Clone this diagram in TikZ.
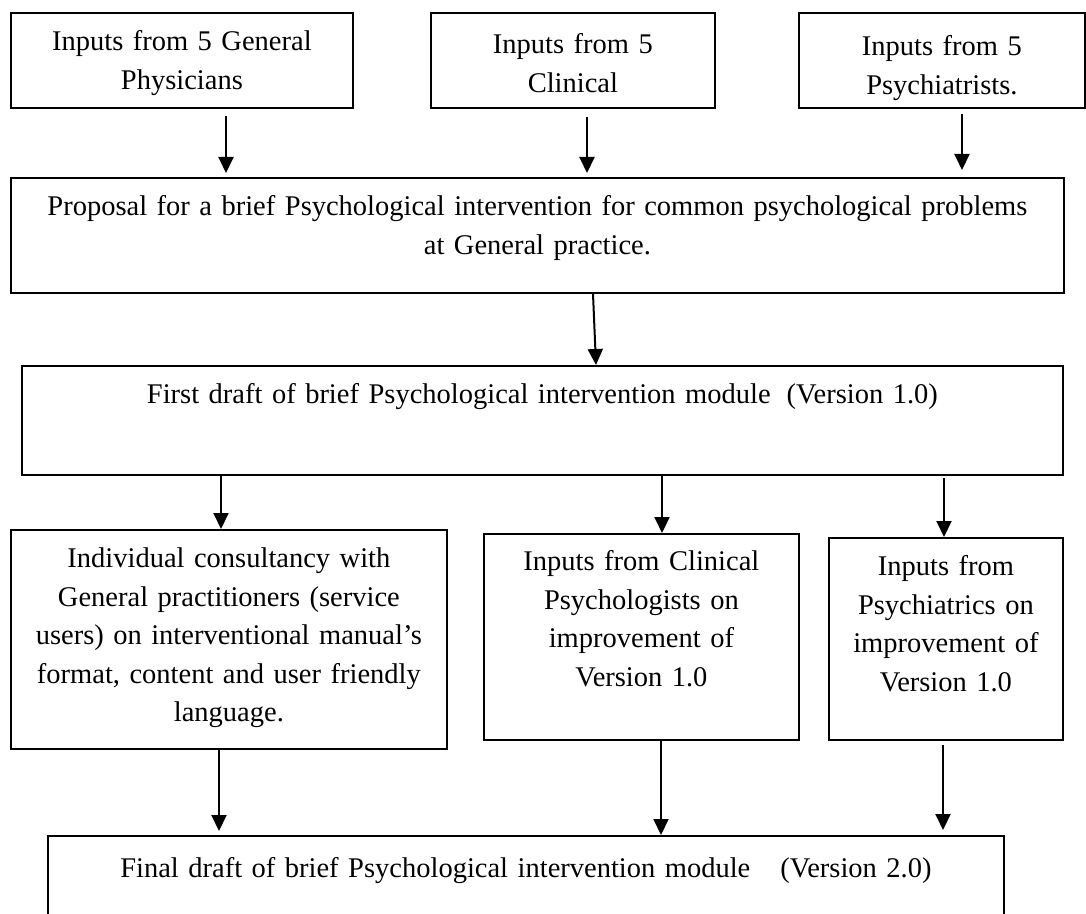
\documentclass[tikz,border=0pt]{standalone}
\usepackage{fontspec}
\setmainfont{Liberation Serif}
\usetikzlibrary{arrows.meta}
\begin{document}
\begin{tikzpicture}[x=0.5pt,y=-0.5pt,
  box/.style={draw, line width=0.9pt, inner sep=0pt, align=center,
    anchor=north west, font=\fontsize{14.25pt}{19.2pt}\selectfont},
  flow/.style={line width=1pt, -{Triangle[length=8pt,width=7.5pt]}}]
\useasboundingbox (0,0) rectangle (1086,914);
\clip (0,0) rectangle (1086,914);
\fill[white] (0,0) rectangle (1086,914);

% first row: sources of input
\node[box, text width=171pt, text height=19pt, text depth=28.5pt] (b1) at (10,12)
  {Inputs from 5 General\\Physicians};
\node[box, text width=142pt, text height=20.5pt, text depth=27pt] (b2) at (430,12)
  {Inputs from 5\\Clinical};
\node[box, text width=143pt, text height=21.5pt, text depth=26pt] (b3) at (798,12)
  {Inputs from 5\\Psychiatrists.};

% proposal and first draft
\node[box, text width=526.5pt, text height=19pt, text depth=38.5pt] (b4) at (10,177)
  {Proposal for a brief Psychological intervention for common psychological problems\\at General practice.};
\node[box, text width=520.5pt, text height=19pt, text depth=35.5pt] (b5) at (21,365)
  {First draft of brief Psychological intervention module\hskip 8pt(Version 1.0)};

% review stage
\node[box, text width=218pt, text height=19pt, text depth=90.5pt] (b6) at (10,529)
  {Individual consultancy with\\General practitioners (service\\users) on interventional manual’s\\format, content and user friendly\\language.};
\node[box, text width=157.5pt, text height=18.5pt, text depth=84.5pt] (b7) at (483,533)
  {Inputs from Clinical\\Psychologists on\\improvement of\\Version 1.0};
\node[box, text width=117pt, text height=19pt, text depth=82pt] (b8) at (828,537)
  {Inputs from\\Psychiatrics on\\improvement of\\Version 1.0};

% final draft
\node[box, text width=478pt, text height=21pt, text depth=39pt] (b9) at (47,835)
  {Final draft of brief Psychological intervention module\hskip 15pt(Version 2.0)};

% arrow positions
\coordinate (x1) at (226,0);
\coordinate (x2) at (587,0);
\coordinate (x3) at (962,0);
\coordinate (x4a) at (593,0);
\coordinate (x4b) at (596,0);
\coordinate (x5) at (221,0);
\coordinate (x6) at (662,0);
\coordinate (x7) at (944,0);
\coordinate (x8) at (219,0);
\coordinate (x9) at (661,0);
\coordinate (x10) at (943,0);

\draw[flow, shorten <=3.5pt, shorten >=2pt] (b1.south -| x1) -- (b4.north -| x1);
\draw[flow, shorten <=4pt, shorten >=2pt] (b2.south -| x2) -- (b4.north -| x2);
\draw[flow, shorten <=2.5pt, shorten >=3.5pt] (b3.south -| x3) -- (b4.north -| x3);
\draw[flow] (b4.south -| x4a) -- (b5.north -| x4b);
\draw[flow] (b5.south -| x5) -- (b6.north -| x5);
\draw[flow] (b5.south -| x6) -- (b7.north -| x6);
\draw[flow, shorten <=1pt] (b5.south -| x7) -- (b8.north -| x7);
\draw[flow, shorten >=2pt] (b6.south -| x8) -- (b9.north -| x8);
\draw[flow] (b7.south -| x9) -- (b9.north -| x9);
\draw[flow, shorten <=2pt, shorten >=2.5pt] (b8.south -| x10) -- (b9.north -| x10);
\end{tikzpicture}
\end{document}
